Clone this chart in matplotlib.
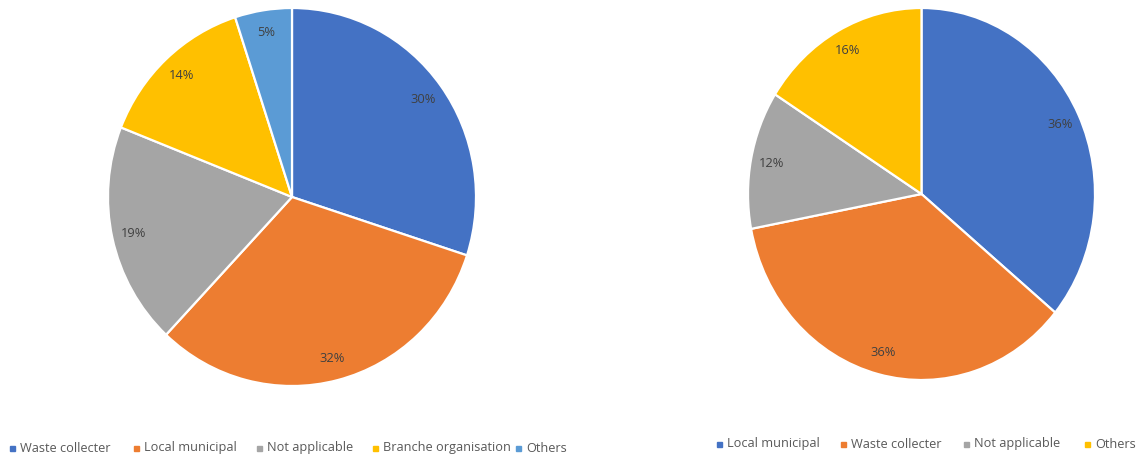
import matplotlib.pyplot as plt
from matplotlib.lines import Line2D

# ---------------------------------------------------------------------------
# Data
# ---------------------------------------------------------------------------

left_labels = ["Waste collecter", "Local municipal", "Not applicable",
               "Branche organisation", "Others"]
left_values = [30, 32, 19, 14, 5]

right_labels = ["Local municipal", "Waste collecter", "Not applicable", "Others"]
right_values = [36, 36, 12, 16]

left_colors = ["#4472C4", "#ED7D31", "#A5A5A5", "#FFC000", "#5B9BD5"]
right_colors = ["#4472C4", "#ED7D31", "#A5A5A5", "#FFC000"]

# legend entry positions (pixels: marker x, shared y)
left_legend_x = [12, 136, 259, 375, 518]
left_legend_y = 448
right_legend_x = [719, 843, 966, 1087]
right_legend_y = 444

TEXT_COLOR = "#404040"
LEGEND_COLOR = "#595959"
FONT = "Open Sans"

W, H = 1140, 457
fig = plt.figure(figsize=(W / 100, H / 100), dpi=100)


def px_axes(cx, cy, rx, ry):
    """Axes box (figure fraction) for a pie centred at pixel (cx, cy)."""
    return [(cx - rx) / W, 1 - (cy + ry) / H, 2 * rx / W, 2 * ry / H]


def draw_pie(rect, values, colors):
    ax = fig.add_axes(rect)
    ax.pie(
        values,
        colors=colors,
        startangle=90,
        counterclock=False,
        autopct="%1.0f%%",
        pctdistance=0.88,
        wedgeprops=dict(edgecolor="white", linewidth=1.6),
        textprops=dict(color=TEXT_COLOR, fontsize=9.3, family=FONT),
    )
    ax.set_xlim(-1, 1)
    ax.set_ylim(-1, 1)
    ax.set_aspect("auto")
    ax.axis("off")
    return ax


draw_pie(px_axes(292, 197, 184, 189), left_values, left_colors)
draw_pie(px_axes(921.5, 194, 173.5, 186), right_values, right_colors)


def draw_legend(holder, labels, colors, xs, y):
    """Square marker + label per entry, drawn into a blank holder axes that clips them."""
    fy = 1 - y / H
    for label, color, x in zip(labels, colors, xs):
        holder.add_line(Line2D([x / W], [fy], transform=fig.transFigure, marker="s",
                               markersize=3.6, linestyle="none", clip_on=True,
                               markerfacecolor=color, markeredgecolor=color))
        holder.text((x + 8) / W, fy, label, transform=fig.transFigure,
                    ha="left", va="center", color=LEGEND_COLOR,
                    fontsize=9.2, family=FONT, clip_on=True)


# the left chart is cut off on its right edge in the original layout
left_holder = fig.add_axes([0, 0, 572 / W, 1])
left_holder.axis("off")
right_holder = fig.add_axes([600 / W, 0, 1 - 600 / W, 1])
right_holder.axis("off")

draw_legend(left_holder, left_labels, left_colors, left_legend_x, left_legend_y)
draw_legend(right_holder, right_labels, right_colors, right_legend_x, right_legend_y)

fig.savefig("out.png", dpi=100, facecolor="white")
